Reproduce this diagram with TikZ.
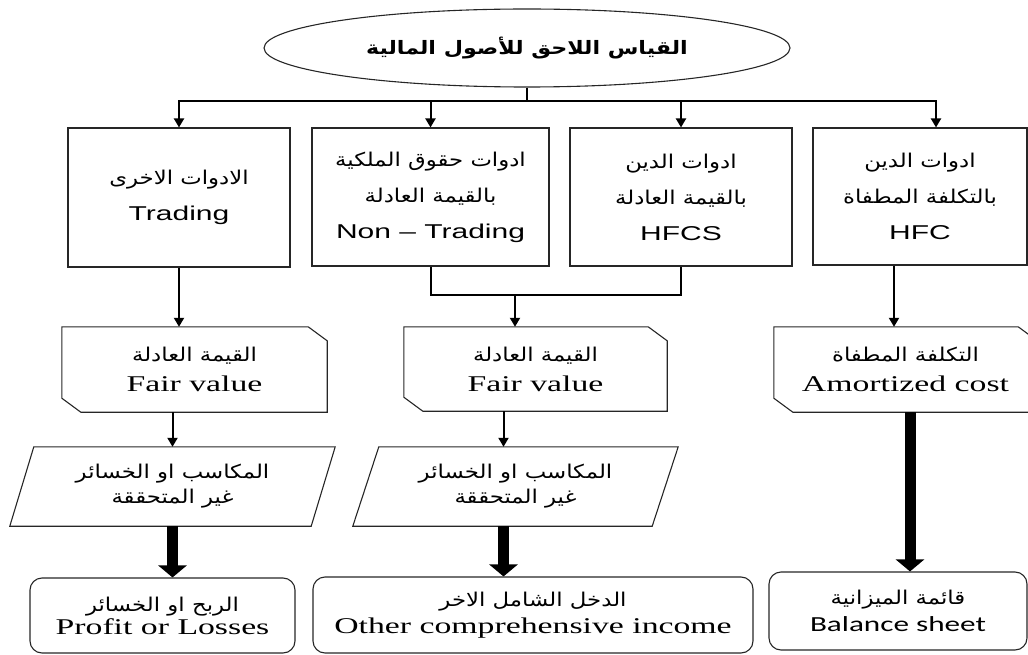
\documentclass[tikz,border=0pt]{standalone}
\usepackage{fontspec}
\usetikzlibrary{arrows.meta,shapes.geometric,calc}
\TeXXeTstate=1
\newfontfamily\arabicfont[Script=Arabic,FakeStretch=1.2]{DejaVu Sans}
\newfontfamily\arabicbold[Script=Arabic,FakeStretch=1.2]{DejaVu Sans Bold}
\newfontfamily\serifw[FakeStretch=1.5]{Liberation Serif}
\newfontfamily\sansw[FakeStretch=1.5]{Liberation Sans}
\newfontfamily\calw[FakeStretch=1.45]{Carlito}
\newcommand{\artx}[2][19]{{\fontsize{#1}{10}\arabicfont\beginR #2\endR}}
\newcommand{\entx}[1]{{\fontsize{20}{10}\sansw #1}}
\newcommand{\setx}[1]{{\fontsize{22.5}{10}\serifw #1}}
\newcommand{\catx}[1]{{\fontsize{21.5}{10}\calw #1}}
\newcommand{\chamfer}[1]{\draw[outline] (#1.north west) -- ($(#1.north east)+(-19,0)$) -- ($(#1.north east)+(0,14)$) -- (#1.south east) -- ($(#1.south west)+(19,0)$) -- ($(#1.south west)+(0,-14)$) -- cycle;}
\newcommand{\pgram}[2]{\draw[outline] ($(#1.north west)+(#2,0)$) -- ($(#1.north east)+(#2,0)$) -- ($(#1.south east)+(-#2,0)$) -- ($(#1.south west)+(-#2,0)$) -- cycle;}
\tikzset{
  outline/.style={draw=black!85, line width=1.1pt},
  box/.style={outline, rectangle, align=center, inner sep=0pt},
  ghost/.style={rectangle, align=center, inner sep=0pt},
  rbox/.style={box, rounded corners=12pt},
  conn/.style={draw=black, line width=2pt},
  arr/.style={conn, -{Triangle[width=10pt,length=9pt]}},
  fat/.style={draw=black, line width=11pt, -{Triangle[width=28pt,length=12pt]}},
  sp36/.style={font={\fontsize{19}{36}\selectfont\lineskiplimit-50pt\relax}},
  sp30/.style={font={\fontsize{19}{30}\selectfont\lineskiplimit-50pt\relax}},
  sp25/.style={font={\fontsize{19}{25}\selectfont\lineskiplimit-50pt\relax}},
  sp23/.style={font={\fontsize{19}{23}\selectfont\lineskiplimit-50pt\relax}},
  sp27/.style={font={\fontsize{19}{27}\selectfont\lineskiplimit-50pt\relax}},
}
\begin{document}
\begin{tikzpicture}[x=1pt,y=-1pt]
\useasboundingbox (0,0) rectangle (1028,655);
\clip (0,0) rectangle (1028,655);
% title
\node[outline, ellipse, minimum width=526pt, minimum height=78pt, inner sep=0pt] (title) at (527,48)
  {{\fontsize{18.5}{20}\arabicbold\beginR القياس اللاحق للأصول المالية\endR}};
% row 1
\node[box, sp36, minimum width=222pt, minimum height=139pt] (A) at (179,197.5)
  {\artx{الادوات الاخرى}\\\entx{Trading}};
\node[box, sp36, minimum width=237pt, minimum height=138pt] (B) at (430.5,197)
  {\artx{ادوات حقوق الملكية}\\\artx{بالقيمة العادلة}\\\entx{Non – Trading}};
\node[box, sp36, minimum width=222pt, minimum height=138pt] (C) at (681,197)
  {\artx{ادوات الدين}\\\artx{بالقيمة العادلة}\\\entx{HFCS}};
\node[box, sp36, minimum width=214pt, minimum height=137pt] (D) at (920,196.5)
  {\artx{ادوات الدين}\\\artx{بالتكلفة المطفاة}\\\entx{HFC}};
% row 2
\node[ghost, sp30, minimum width=265pt, minimum height=85pt] (fv1) at (194.5,369.5)
  {\artx{القيمة العادلة}\\\setx{Fair value}};
\node[ghost, sp30, minimum width=263pt, minimum height=84pt] (fv2) at (535.5,369)
  {\artx{القيمة العادلة}\\\setx{Fair value}};
\node[ghost, sp30, minimum width=263pt, minimum height=85pt] (ac) at (905.5,369.5)
  {\artx{التكلفة المطفاة}\\\setx{Amortized cost}};
\chamfer{fv1}
\chamfer{fv2}
\chamfer{ac}
% row 3
\node[ghost, sp25, minimum width=301pt, minimum height=79pt] (p1) at (172.5,486.5)
  {\artx{المكاسب او الخسائر}\\\artx{غير المتحققة}};
\node[ghost, sp25, minimum width=299pt, minimum height=79pt] (p2) at (515.5,486.5)
  {\artx{المكاسب او الخسائر}\\\artx{غير المتحققة}};
\pgram{p1}{12}
\pgram{p2}{13}
% row 4
\node[rbox, sp23, minimum width=265pt, minimum height=75pt] (r1) at (162.5,615.5)
  {\artx{الربح او الخسائر}\\\setx{Profit or Losses}};
\node[rbox, sp27, minimum width=440pt, minimum height=76pt] (r2) at (533,615)
  {\artx{الدخل الشامل الاخر}\\\setx{Other comprehensive income}};
\node[rbox, sp27, minimum width=258pt, minimum height=78pt] (r3) at (898,611)
  {\artx{قائمة الميزانية}\\\catx{Balance sheet}};
% connectors
\coordinate (bus) at (527,101);
\coordinate (dIn) at ($(D.north)+(16,0)$);
\draw[conn] (title.south) -- (bus);
\draw[conn, {Triangle[width=10pt,length=9pt]}-{Triangle[width=10pt,length=9pt]}]
  (A.north) -- (A.north |- bus) -- (dIn |- bus) -- (dIn);
\draw[arr] (B.north |- bus) -- (B.north);
\draw[arr] (C.north |- bus) -- (C.north);
\coordinate (merge) at (515,295);
\draw[conn] (B.south) -- (B.south |- merge) -- (C.south |- merge) -- (C.south);
\draw[arr] (merge) -- (merge |- fv2.north);
\draw[arr] (A.south) -- (A.south |- fv1.north);
\coordinate (dOut) at ($(D.south)+(-26,0)$);
\draw[arr] (dOut) -- (dOut |- ac.north);
\draw[arr] (p1.north |- fv1.south) -- (p1.north);
\coordinate (p2in) at ($(p2.north)+(-12,0)$);
\draw[arr] (p2in |- fv2.south) -- (p2in);
\draw[fat] (p1.south) -- (p1.south |- r1.north);
\coordinate (p2out) at ($(p2.south)+(-12,0)$);
\draw[fat] (p2out) -- (p2out |- r2.north);
\coordinate (r3in) at ($(r3.north)+(12,0)$);
\draw[fat] (r3in |- ac.south) -- (r3in);
\end{tikzpicture}
\end{document}
